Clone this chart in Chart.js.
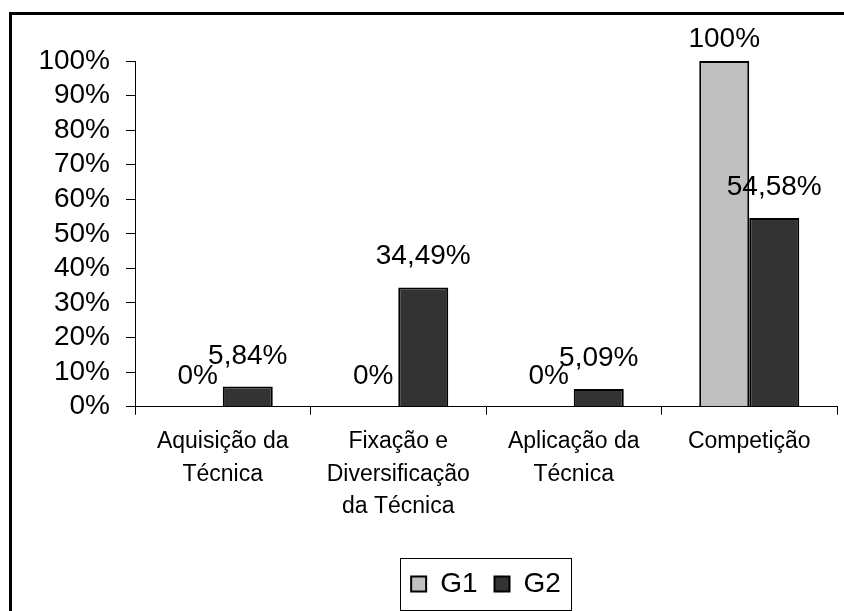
<!DOCTYPE html>
<html>
<head>
<meta charset="utf-8">
<script src="https://cdn.jsdelivr.net/npm/chart.js@4"></script>
<style>
    html, body { margin: 0; padding: 0; background: #fff; overflow: hidden; }
    #wrap { position: relative; width: 844px; height: 611px; }
    #frame { position: absolute; left: 9px; top: 12px; width: 900px; height: 700px; border: 3px solid #000; box-sizing: border-box; }
    #chartBox { position: absolute; left: 0; top: 0; width: 844px; height: 611px; }
</style>
</head>
<body>
<div id="wrap">
    <div id="frame"></div>
    <div id="chartBox"><canvas id="fasesChart"></canvas></div>
</div>
<script>
const categories = [
    ['Aquisição da', 'Técnica'],
    ['Fixação e', 'Diversificação', 'da Técnica'],
    ['Aplicação da', 'Técnica'],
    ['Competição']
];
const g1Values = [0, 0, 0, 100];
const g2Values = [5.84, 34.49, 5.09, 54.58];
const yTicks = [0, 10, 20, 30, 40, 50, 60, 70, 80, 90, 100];

const FONT = "'Liberation Sans', Arial, sans-serif";

const fmt = v => (Number.isInteger(v) ? String(v) : v.toFixed(2).replace('.', ',')) + '%';

// value labels above bars
const valueLabels = {
    id: 'valueLabels',
    afterDatasetsDraw(chart) {
        const ctx = chart.ctx;
        ctx.save();
        ctx.font = '28px ' + FONT;
        ctx.fillStyle = '#000';
        ctx.textAlign = 'center';
        ctx.textBaseline = 'alphabetic';
        chart.data.datasets.forEach((ds, di) => {
            chart.getDatasetMeta(di).data.forEach((bar, i) => {
                const y = Math.max(bar.y - 23, 47);
                ctx.fillText(fmt(ds.data[i]), bar.x, y);
            });
        });
        ctx.restore();
    }
};

// frame around legend items
const legendFrame = {
    id: 'legendFrame',
    afterDraw(chart) {
        const boxes = chart.legend && chart.legend.legendHitBoxes;
        if (!boxes || !boxes.length) return;
        const first = boxes[0], last = boxes[boxes.length - 1];
        const cy = first.top + first.height / 2;
        const ctx = chart.ctx;
        ctx.save();
        ctx.strokeStyle = '#000';
        ctx.lineWidth = 1;
        const left = Math.round(first.left - 11) + 0.5;
        const right = Math.round(last.left + last.width + 10) + 0.5;
        ctx.strokeRect(left, Math.round(cy - 26) + 0.5, right - left, 52);
        ctx.restore();
    }
};

new Chart(document.getElementById('fasesChart').getContext('2d'), {
    type: 'bar',
    data: {
        labels: categories,
        datasets: [
            {
                label: 'G1',
                data: g1Values,
                backgroundColor: '#c0c0c0',
                borderColor: '#000',
                borderWidth: 2,
                categoryPercentage: 0.57,
                barPercentage: 1.0
            },
            {
                label: 'G2',
                data: g2Values,
                backgroundColor: '#333333',
                borderColor: '#000',
                borderWidth: 2,
                categoryPercentage: 0.57,
                barPercentage: 1.0
            }
        ]
    },
    options: {
        responsive: true,
        maintainAspectRatio: false,
        animation: false,
        layout: { padding: { left: 39, right: 7, top: 61, bottom: 3 } },
        plugins: {
            legend: {
                display: true,
                position: 'bottom',
                fullSize: false,
                labels: {
                    color: '#000',
                    font: { family: FONT, size: 28 },
                    boxWidth: 15,
                    boxHeight: 15,
                    padding: 17,
                    generateLabels(chart) {
                        return chart.data.datasets.map((ds, i) => ({
                            text: ds.label,
                            fillStyle: ds.backgroundColor,
                            strokeStyle: '#000',
                            lineWidth: 2,
                            datasetIndex: i
                        }));
                    }
                }
            },
            tooltip: { enabled: false }
        },
        scales: {
            y: {
                min: 0,
                max: 100,
                afterBuildTicks(scale) {
                    scale.ticks = yTicks.map(v => ({ value: v }));
                },
                afterFit(scale) { scale.width = 96; },
                ticks: {
                    autoSkip: false,
                    color: '#000',
                    padding: 16,
                    font: { family: FONT, size: 28 },
                    callback: v => v + '%'
                },
                grid: { drawOnChartArea: false, drawTicks: true, tickLength: 9, color: '#000' },
                border: { color: '#000', width: 1 }
            },
            x: {
                afterFit(scale) { scale.height += 19; },
                ticks: {
                    color: '#000',
                    padding: 11,
                    maxRotation: 0,
                    autoSkip: false,
                    font: { family: FONT, size: 23, lineHeight: 1.41 }
                },
                grid: { drawOnChartArea: false, drawTicks: true, tickLength: 8, color: '#000', offset: true },
                border: { color: '#000', width: 1 }
            }
        }
    },
    plugins: [valueLabels, legendFrame]
});
</script>
</body>
</html>
